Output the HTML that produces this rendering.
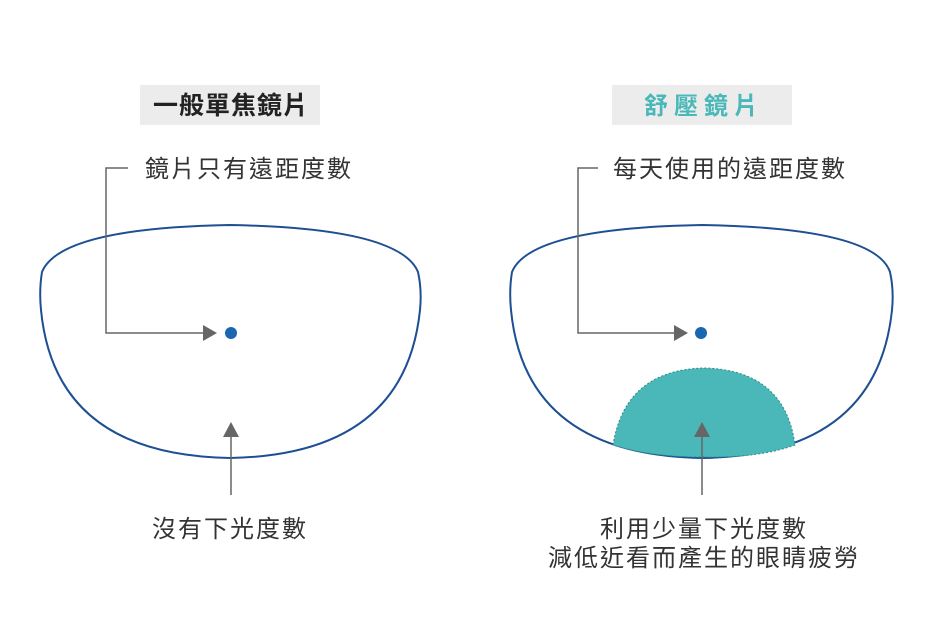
<!DOCTYPE html>
<html><head><meta charset="utf-8"><style>
body{margin:0;background:#fff;width:932px;height:622px;overflow:hidden;font-family:"Liberation Sans","Noto Sans CJK TC",sans-serif}
</style></head><body>
<svg width="932" height="622" xmlns="http://www.w3.org/2000/svg" style="font-family:'Liberation Sans','Noto Sans CJK TC',sans-serif">
<rect x="140" y="85" width="180" height="40" fill="#ececec"/>
<text x="231" y="114" text-anchor="middle" font-size="25" font-weight="bold" fill="#222" letter-spacing="1">一般單焦鏡片</text>
<rect x="612" y="85" width="180" height="40" fill="#ececec"/>
<text x="704" y="114" text-anchor="middle" font-size="24" font-weight="bold" fill="#4ab8b8" letter-spacing="6">舒壓鏡片</text>

<text x="145" y="177" font-size="24" fill="#333" letter-spacing="2">鏡片只有遠距度數</text>
<text x="613" y="177" font-size="24" fill="#333" letter-spacing="2">每天使用的遠距度數</text>

<g fill="none" stroke="#1d4f93" stroke-width="2">
<path d="M42,272 Q60,228 230,225 Q400,228 418,272 Q422,290 420,310 Q405,455 230,458 Q55,455 41,310 Q39,290 42,272 Z"/>
<path d="M512,272 Q530,228 702,225 Q875,228 890,272 Q894,290 892,310 Q877,455 702,458 Q525,455 511,310 Q509,290 512,272 Z"/>
</g>
<path d="M613,445 Q625,370 704,368 Q785,370 795,445 Q760,458 702,457 Q650,457 613,445 Z" fill="#4ab8b8" stroke="#2a8a8a" stroke-width="1" stroke-dasharray="2,2"/>

<g fill="none" stroke="#666" stroke-width="1.5">
<path d="M128,168 H106 V333 H204"/>
<path d="M598,168 H578 V333 H675"/>
<path d="M231,436 V495"/>
<path d="M702,436 V495"/>
</g>
<g fill="#666">
<polygon points="203,325 217,333 203,341"/>
<polygon points="674,325 688,333 674,341"/>
<polygon points="223,437 231,422 239,437"/>
<polygon points="694,437 702,422 710,437"/>
</g>
<circle cx="231" cy="333" r="6" fill="#1a66b0"/>
<circle cx="701" cy="333" r="6" fill="#1a66b0"/>

<text x="230" y="537" text-anchor="middle" font-size="24" fill="#333" letter-spacing="2">沒有下光度數</text>
<text x="704" y="537" text-anchor="middle" font-size="24" fill="#333" letter-spacing="2">利用少量下光度數</text>
<text x="704" y="566" text-anchor="middle" font-size="24" fill="#333" letter-spacing="2">減低近看而產生的眼睛疲勞</text>
</svg>
</body></html>
